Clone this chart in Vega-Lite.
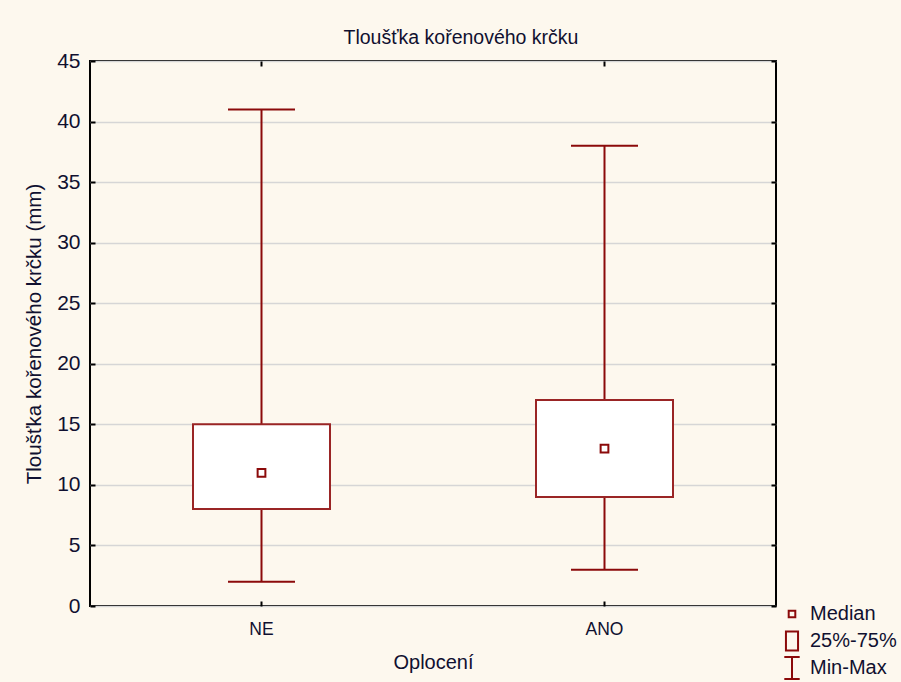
{
  "$schema": "https://vega.github.io/schema/vega-lite/v6.json",
  "width": 686,
  "height": 545,
  "autosize": {"type": "none"},
  "padding": {"left": 90, "top": 61, "right": 125, "bottom": 76},
  "background": "#FDF8EE",
  "title": {
    "text": "Tloušťka kořenového krčku",
    "font": "Liberation Sans",
    "fontSize": 19.5,
    "fontWeight": "normal",
    "color": "#101030",
    "anchor": "middle",
    "dx": 28,
    "offset": 2
  },
  "config": {
    "view": {"stroke": "#000000", "strokeWidth": 2, "fill": "#FFFFFF"},
    "axis": {
      "labelFont": "Liberation Sans",
      "titleFont": "Liberation Sans",
      "labelColor": "#101030",
      "titleColor": "#101030",
      "titleFontWeight": "normal",
      "domain": false,
      "tickColor": "#000000",
      "tickWidth": 2,
      "tickSize": -5
    },
    "legend": {
      "labelFont": "Liberation Sans",
      "labelFontSize": 20,
      "labelColor": "#101030"
    }
  },
  "datasets": {
    "stats": [
      {"oploceni": "NE", "min": 2, "q1": 8, "median": 11, "q3": 15, "max": 41},
      {"oploceni": "ANO", "min": 3, "q1": 9, "median": 13, "q3": 17, "max": 38}
    ],
    "legendItems": [
      {"item": "Median"},
      {"item": "25%-75%"},
      {"item": "Min-Max"}
    ]
  },
  "resolve": {"axis": {"x": "independent", "y": "independent"}},
  "layer": [
    {
      "data": {"name": "stats"},
      "mark": {"type": "rule", "color": "#8B0A0A", "strokeWidth": 2},
      "encoding": {
        "x": {
          "field": "oploceni", "type": "nominal", "sort": ["NE", "ANO"],
          "scale": {"type": "band", "paddingInner": 0, "paddingOuter": 0},
          "axis": {"title": "Oplocení", "labelAngle": 0, "labelFontSize": 17.5, "titleFontSize": 20, "labelPadding": 19, "titlePadding": 15, "bandPosition": 0.5, "grid": false}
        },
        "y": {
          "field": "min", "type": "quantitative",
          "scale": {"domain": [0, 45], "nice": false, "zero": true},
          "axis": {"title": "Tloušťka kořenového krčku (mm)", "values": [0,5,10,15,20,25,30,35,40,45], "labelFontSize": 21, "titleFontSize": 20.5, "labelPadding": 15, "titlePadding": 12, "grid": true, "gridColor": "#D6D6D6", "gridWidth": 1.5}
        },
        "y2": {"field": "max"}
      }
    },
    {
      "data": {"name": "stats"},
      "mark": {"type": "tick", "color": "#8B0A0A", "thickness": 2, "size": 67, "opacity": 1},
      "encoding": {
        "x": {"field": "oploceni", "type": "nominal", "sort": ["NE", "ANO"], "axis": {"orient": "top", "labels": false, "title": null, "bandPosition": 0.5, "grid": false}},
        "y": {"field": "min", "type": "quantitative", "axis": {"orient": "right", "labels": false, "title": null, "values": [0,5,10,15,20,25,30,35,40,45], "grid": false}}
      }
    },
    {
      "data": {"name": "stats"},
      "mark": {"type": "tick", "color": "#8B0A0A", "thickness": 2, "size": 67, "opacity": 1},
      "encoding": {
        "x": {"field": "oploceni", "type": "nominal", "sort": ["NE", "ANO"], "axis": null},
        "y": {"field": "max", "type": "quantitative", "axis": null}
      }
    },
    {
      "data": {"name": "stats"},
      "mark": {"type": "bar", "width": 137, "fill": "#FFFFFF", "stroke": "#9A2525", "strokeWidth": 2},
      "encoding": {
        "x": {"field": "oploceni", "type": "nominal", "sort": ["NE", "ANO"], "axis": null},
        "y": {"field": "q1", "type": "quantitative", "axis": null},
        "y2": {"field": "q3"}
      }
    },
    {
      "data": {"name": "stats"},
      "mark": {"type": "point", "shape": "square", "size": 60, "filled": false, "fill": "#FFFFFF", "stroke": "#8B0A0A", "strokeWidth": 2, "opacity": 1},
      "encoding": {
        "x": {"field": "oploceni", "type": "nominal", "sort": ["NE", "ANO"], "axis": null},
        "y": {"field": "median", "type": "quantitative", "axis": null}
      }
    },
    {
      "data": {"name": "legendItems"},
      "mark": {"type": "point", "filled": false, "stroke": "#8B0A0A", "strokeWidth": 2, "opacity": 0},
      "encoding": {
        "shape": {
          "field": "item", "type": "nominal",
          "scale": {
            "domain": ["Median", "25%-75%", "Min-Max"],
            "range": ["M-0.3,-0.3H0.3V0.3H-0.3Z", "M-0.55,-0.86H0.55V0.86H-0.55Z", "M-0.7,-1H0.7M0,-1V1M-0.7,1H0.7"]
          },
          "legend": {
            "title": null,
            "orient": "none",
            "legendX": 690,
            "legendY": 541,
            "symbolSize": 484,
            "symbolStrokeWidth": 2,
            "symbolStrokeColor": "#8B0A0A",
            "symbolFillColor": "transparent",
            "symbolOpacity": 1,
            "gridAlign": "all",
            "rowPadding": -4.5,
            "labelOffset": 6
          }
        }
      }
    }
  ]
}
